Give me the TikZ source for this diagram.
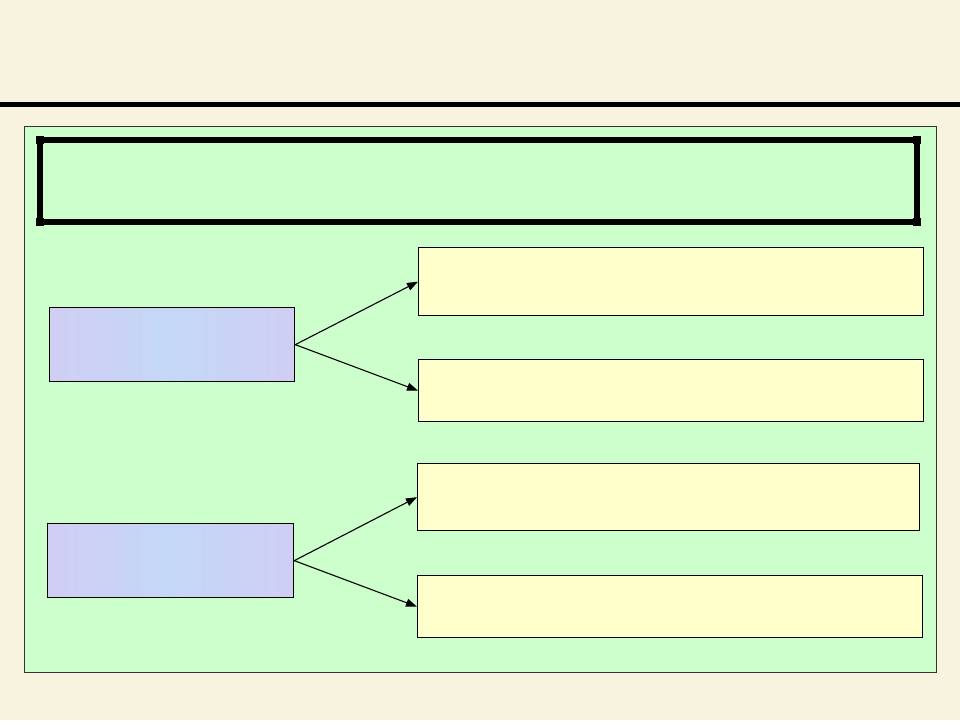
\documentclass[tikz,border=0pt]{standalone}
\usepackage{tikz}
\usetikzlibrary{arrows.meta}
\definecolor{parchment}{RGB}{247,243,222}
\definecolor{panelgreen}{RGB}{204,255,204}
\definecolor{boxyellow}{RGB}{255,255,204}
\definecolor{boxblue}{RGB}{196,216,246}
\definecolor{boxpink}{RGB}{208,206,244}

\begin{document}
\begin{tikzpicture}[x=1pt, y=-1pt,
    leftbox/.style={draw=black, line width=1.3pt, inner sep=0pt, anchor=north west,
        left color=boxpink, right color=boxpink, middle color=boxblue},
    rightbox/.style={draw=black, line width=1.3pt, inner sep=0pt, anchor=north west, fill=boxyellow},
    pointer/.style={-{Triangle[length=11pt,width=8pt]}, line width=1.1pt}]
    % Background and page frame
    \fill[parchment] (0,0) rectangle (960,720);
    \useasboundingbox (0,0) rectangle (960,720);
    \draw[line width=5pt] (0,104.5) -- (960,104.5);

    % Green panel
    \draw[fill=panelgreen, draw=black!80, line width=0.9pt] (24,126) rectangle (936,672);

    % Heavy title frame
    \draw[line width=6pt] (39.5,139.5) rectangle (916.5,222);
    \foreach \cx/\cy in {39.5/139.5, 916.5/139.5, 39.5/222, 916.5/222}
        \fill (\cx-4,\cy-4) rectangle (\cx+4,\cy+4);

    % Left boxes
    \node[leftbox, minimum width=245pt, minimum height=74pt] (upper) at (49,307) {};
    \node[leftbox, minimum width=246pt, minimum height=74pt] (lower) at (47,523) {};

    % Right boxes
    \node[rightbox, minimum width=505pt, minimum height=68pt] (ua) at (418,247) {};
    \node[rightbox, minimum width=505pt, minimum height=62pt] (ub) at (418,359) {};
    \node[rightbox, minimum width=502pt, minimum height=67pt] (la) at (417,463) {};
    \node[rightbox, minimum width=505pt, minimum height=62pt] (lb) at (417,575) {};

    % Arrows
    \draw[pointer] (upper.east) -- (ua.west);
    \draw[pointer] (upper.east) -- (ub.west);
    \draw[pointer] (lower.east) -- (la.west);
    \draw[pointer] (lower.east) -- (lb.west);

\end{tikzpicture}
\end{document}
